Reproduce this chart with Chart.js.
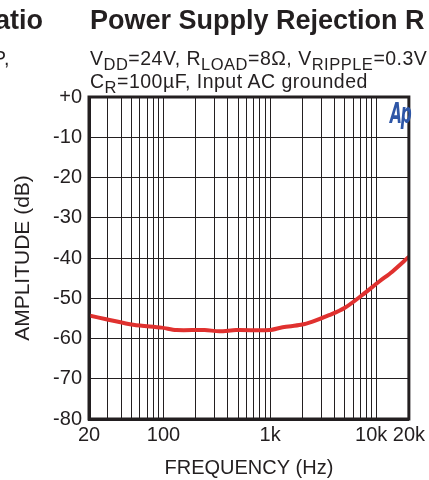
<!DOCTYPE html>
<html>
<head>
<meta charset="utf-8">
<script src="https://cdn.jsdelivr.net/npm/chart.js@4.4.0/dist/chart.umd.min.js"></script>
<style>
  html, body { margin: 0; padding: 0; background: #fff; }
  #wrap { position: relative; width: 429px; height: 480px; overflow: hidden; font-family: "Liberation Sans", Arial, sans-serif; color: #231f20; }
  #wrap canvas { position: absolute; left: 0; top: 0; }
  .txt { position: absolute; white-space: nowrap; }
  .ttl { font-weight: bold; font-size: 27px; top: 5px; }
  .sub { font-size: 19.5px; letter-spacing: 0.5px; }
  .sub sub { font-size: 16.5px; vertical-align: -5px; line-height: 0; }
  #logo { left: 390px; top: 97px; color: #2e56a6; font: italic 900 28px "DejaVu Sans", sans-serif; letter-spacing: -2px; transform: scaleX(0.55); transform-origin: left top; }
</style>
</head>
<body>
<div id="wrap">
  <canvas id="c" width="429" height="480"></canvas>
  <div class="txt ttl" style="left:-5px">atio</div>
  <div class="txt ttl" style="left:90px">Power Supply Rejection R</div>
  <div class="txt sub" style="left:-7px; top:47px">P,</div>
  <div class="txt sub" style="left:90px; top:47px">V<sub>DD</sub>=24V, R<sub>LOAD</sub>=8&Omega;, V<sub>RIPPLE</sub>=0.3V</div>
  <div class="txt sub" style="left:90px; top:70px">C<sub>R</sub>=100&micro;F, Input AC grounded</div>
  <div class="txt" id="logo">Ap</div>
</div>
<script>
// valores
var frequencias = [20, 29, 52, 96, 132, 243, 335, 480, 984, 1310, 1945, 2496, 3570, 4930, 7310, 10470, 13960, 20000];
var amplitudes = [-54.3, -55.2, -56.6, -57.3, -57.9, -57.9, -58.2, -57.9, -57.9, -57.2, -56.6, -55.8, -54.2, -52.5, -49.2, -45.9, -43.4, -39.7];

var gradeX = [20, 30, 40, 50, 60, 70, 80, 90, 100, 200, 300, 400, 500, 600, 700, 800, 900,
              1000, 2000, 3000, 4000, 5000, 6000, 7000, 8000, 9000, 10000, 20000];
var rotulosX = { 20: '20', 100: '100', 1000: '1k', 10000: '10k  ', 20000: '20k' };
var rotulosY = [0, -10, -20, -30, -40, -50, -60, -70, -80];

var fonte = '"Liberation Sans", Arial, sans-serif';

var ctx = document.getElementById('c').getContext('2d');
new Chart(ctx, {
    type: 'line',
    data: {
        datasets: [{
            data: frequencias.map((f, i) => ({ x: f, y: amplitudes[i] })),
            borderColor: '#e0312f',
            borderWidth: 4,
            pointRadius: 0,
            tension: 0.3,
            fill: false
        }]
    },
    options: {
        responsive: false,
        animation: false,
        layout: { padding: { top: 97, right: 19, left: 0, bottom: 0 } },
        plugins: { legend: { display: false }, tooltip: { enabled: false } },
        scales: {
            x: {
                type: 'logarithmic',
                min: 20,
                max: 20000,
                afterBuildTicks: s => { s.ticks = gradeX.map(v => ({ value: v })); },
                afterFit: s => { s.height = 61; },
                ticks: {
                    autoSkip: false,
                    maxRotation: 0,
                    padding: 4,
                    color: '#231f20',
                    font: { family: fonte, size: 20 },
                    callback: v => rotulosX[v] || ''
                },
                grid: { color: '#231f20', lineWidth: 1, drawTicks: false },
                border: { color: '#231f20', width: 3 },
                title: {
                    display: true,
                    text: 'FREQUENCY (Hz)',
                    color: '#231f20',
                    font: { family: fonte, size: 20 },
                    padding: { top: 6, bottom: 0 }
                }
            },
            y: {
                min: -80,
                max: 0,
                afterBuildTicks: s => { s.ticks = rotulosY.map(v => ({ value: v })); },
                afterFit: s => { s.width = 89; },
                ticks: {
                    padding: 7,
                    color: '#231f20',
                    font: { family: fonte, size: 20 },
                    callback: v => v === 0 ? '+0' : String(v)
                },
                grid: { color: '#231f20', lineWidth: 1, drawTicks: false },
                border: { color: '#231f20', width: 3 },
                title: {
                    display: true,
                    text: 'AMPLITUDE (dB)',
                    color: '#231f20',
                    font: { family: fonte, size: 21 },
                    padding: { top: 11, bottom: 0 }
                }
            }
        }
    },
    plugins: [{
        // borda completa da área do gráfico
        id: 'moldura',
        afterDraw: chart => {
            var a = chart.chartArea, c = chart.ctx;
            c.save();
            c.strokeStyle = '#231f20';
            c.lineWidth = 3;
            c.strokeRect(a.left, a.top, a.right - a.left, a.bottom - a.top);
            c.restore();
        }
    }]
});
</script>
</body>
</html>
